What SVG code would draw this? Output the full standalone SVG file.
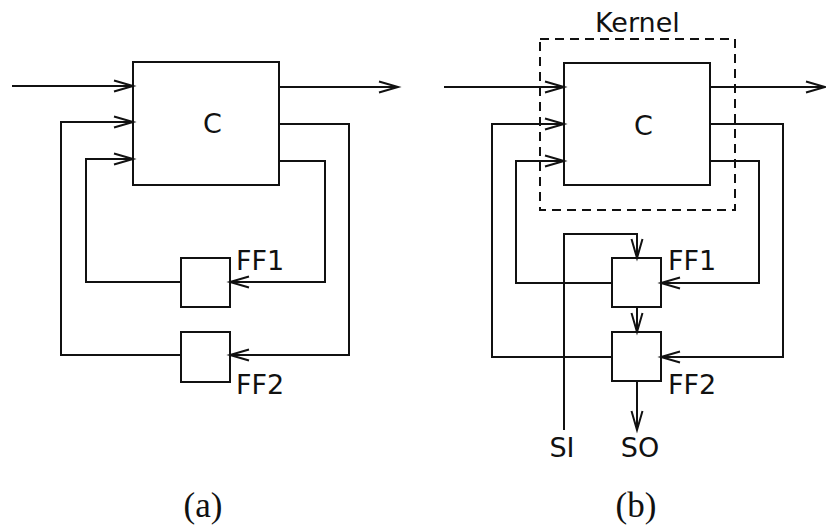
<svg xmlns="http://www.w3.org/2000/svg" width="826" height="526" viewBox="0 0 826 526">
<style>
.box{fill:none;stroke:#111;stroke-width:2}
.w{fill:none;stroke:#111;stroke-width:2;marker-end:url(#ah)}
.p{fill:none;stroke:#111;stroke-width:2}
.lbl{font-family:"DejaVu Sans",sans-serif;font-size:27px;fill:#111}
.cap{font-family:"Liberation Serif",serif;font-size:35px;fill:#111;text-anchor:middle}
.dash{fill:none;stroke:#111;stroke-width:2;stroke-dasharray:9 6}
</style>
<defs>
<marker id="ah" markerUnits="userSpaceOnUse" markerWidth="24" markerHeight="14" refX="0" refY="0" viewBox="-20 -7 22 14" orient="auto" overflow="visible">
<path d="M-19,-5.5 L0,0 L-19,5.5" fill="none" stroke="#111" stroke-width="2"/>
</marker>
</defs>
<rect width="826" height="526" fill="#fff"/>
<!-- Diagram (a) -->
<g id="a-C"><rect class="box" x="133" y="62" width="146" height="123"/><text class="lbl" x="203" y="133">C</text></g>
<g id="a-FF1"><rect class="box" x="181" y="258" width="49" height="49"/><text class="lbl" x="236" y="270">FF1</text></g>
<g id="a-FF2"><rect class="box" x="181" y="332" width="49" height="50"/><text class="lbl" x="236" y="394">FF2</text></g>
<g id="a-connectors">
<path class="w" d="M12,86 H133"/>
<path class="w" d="M279,87 H398"/>
<path class="w" d="M181,355 H61 V122 H133"/>
<path class="w" d="M181,282 H86 V159 H133"/>
<path class="w" d="M279,124 H349 V355 H230"/>
<path class="w" d="M279,161 H325 V282 H230"/>
</g>
<text class="cap" x="203" y="517">(a)</text>
<!-- Diagram (b) -->
<g id="b-Kernel"><rect class="dash" x="540" y="39" width="195" height="171"/><text class="lbl" x="595" y="32">Kernel</text></g>
<g id="b-C"><rect class="box" x="564" y="63" width="146" height="122"/><text class="lbl" x="634" y="135">C</text></g>
<g id="b-FF1"><rect class="box" x="612" y="258" width="49" height="49"/><text class="lbl" x="668" y="270">FF1</text></g>
<g id="b-FF2"><rect class="box" x="612" y="332" width="49" height="49"/><text class="lbl" x="668" y="394">FF2</text></g>
<g id="b-SI"><text class="lbl" x="562" y="457" text-anchor="middle">SI</text></g>
<g id="b-SO"><text class="lbl" x="640" y="457" text-anchor="middle">SO</text></g>
<g id="b-connectors">
<path class="w" d="M444,87 H564"/>
<path class="w" d="M710,87 H825"/>
<path class="w" d="M612,357 H492 V124 H564"/>
<path class="w" d="M612,283 H516 V161 H564"/>
<path class="w" d="M710,124 H783 V357 H661"/>
<path class="w" d="M710,161 H759 V283 H661"/>
<path class="w" d="M564,430 V234 H637 V258"/>
<path class="w" d="M637,307 V332"/>
<path class="w" d="M637,381 V430"/>
</g>
<text class="cap" x="636" y="517">(b)</text>
</svg>
